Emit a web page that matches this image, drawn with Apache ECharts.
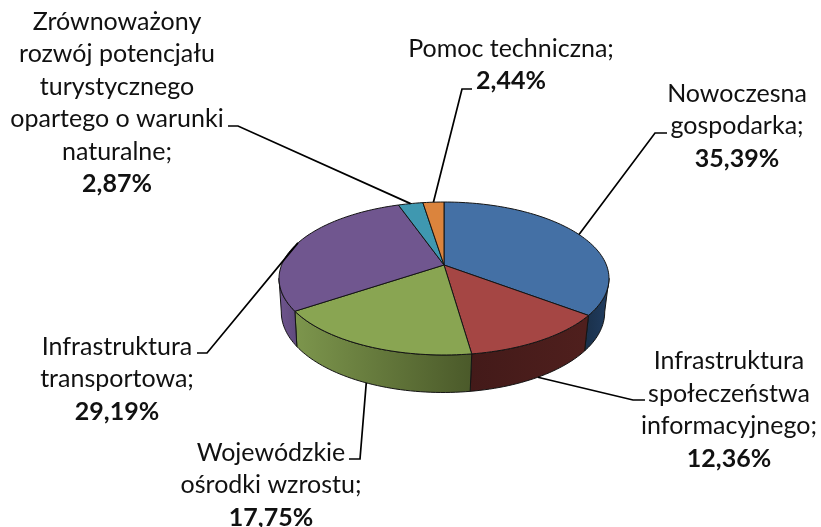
<!DOCTYPE html>
<html>
<head>
<meta charset="utf-8">
<script src="https://cdn.jsdelivr.net/npm/echarts@6/dist/echarts.min.js"></script>
<style>
  html, body { margin: 0; padding: 0; background: #ffffff; }
  #chartPie { width: 821px; height: 527px; }
</style>
</head>
<body>
<div id="chartPie"></div>
<script>
// data
var categories = [
  "Nowoczesna\ngospodarka;",
  "Infrastruktura\nspołeczeństwa\ninformacyjnego;",
  "Wojewódzkie\nośrodki wzrostu;",
  "Infrastruktura\ntransportowa;",
  "Zrównoważony\nrozwój potencjału\nturystycznego\nopartego o warunki\nnaturalne;",
  "Pomoc techniczna;"
];
var shares = [35.39, 12.36, 17.75, 29.19, 2.87, 2.44];

// styles
var topColors = ["#4470a5", "#a54644", "#89a552", "#70568f", "#3f98b0", "#db843d"];
var wallColors = [
  ["#1f3a5c", "#1a3049"],
  ["#4f1f1d", "#431a19"],
  ["#4b5a2a", "#7c954c"],
  ["#5f4a7c", "#6d548c"],
  ["#26606f", "#26606f"],
  ["#8a5226", "#8a5226"]
];
var edgeColor = "#141414";
var fontName = "Lato";

// pie geometry (perspective view of a disc)
var cx = 444, cy = 265;
var scaleX = 162.4, scaleY = 74.1, tilt = 0.1765;
var baseDrop = 33, baseScaleX = 0.98, baseScaleY = 1.05;

// where each label sits: text centre, leader elbow, leader end
var labelLayout = [
  { x: 737, y: 126, elbow: [655, 133], end: [667, 133], onBase: false },
  { x: 729, y: 410, elbow: [633, 400], end: [645, 400], onBase: true },
  { x: 271, y: 485, elbow: [360, 459], end: [349, 459], onBase: true },
  { x: 117, y: 379, elbow: [207, 353], end: [197, 353], onBase: false },
  { x: 117, y: 103, elbow: [238, 126], end: [228, 126], onBase: false },
  { x: 511, y: 65, elbow: [462, 89], end: [472, 89], onBase: false }
];

var total = shares.reduce(function (a, b) { return a + b; }, 0);
var starts = [];
shares.reduce(function (sum, v, i) { starts[i] = sum; return sum + v; }, 0);

function toAngle(v) {
  return v / total * 360;
}

// angle in degrees clockwise from the back of the disc
function project(deg, base) {
  var a = deg * Math.PI / 180;
  var X = Math.sin(a), Y = -Math.cos(a);
  var w = 1 - tilt * Y;
  var x = scaleX * X / w, y = scaleY * Y / w;
  if (base) {
    return [cx - 1 + x * baseScaleX, cy + baseDrop + y * baseScaleY];
  }
  return [cx + x, cy + y];
}

function arcPoints(from, to, base) {
  var pts = [];
  var n = Math.max(2, Math.ceil(Math.abs(to - from) / 1.5));
  for (var i = 0; i <= n; i++) {
    pts.push(project(from + (to - from) * i / n, base));
  }
  return pts;
}

function renderWall(params, api) {
  var i = params.dataIndex;
  // only the front part of the side is visible
  var from = Math.max(toAngle(starts[i]), 100);
  var to = Math.min(toAngle(starts[i] + api.value(0)), 260);
  if (to <= from) {
    return { type: "group", children: [] };
  }
  var upper = arcPoints(from, to, false);
  var lower = arcPoints(from, to, true);
  var a = lower[0], b = lower[lower.length - 1];
  return {
    type: "polygon",
    shape: { points: upper.concat(lower.reverse()) },
    style: {
      fill: {
        type: "linear", global: true,
        x: a[0], y: 0, x2: b[0], y2: 0,
        colorStops: [
          { offset: 0, color: wallColors[i][0] },
          { offset: 1, color: wallColors[i][1] }
        ]
      },
      stroke: edgeColor,
      lineWidth: 1
    }
  };
}

function renderTop(params, api) {
  var i = params.dataIndex;
  var from = toAngle(starts[i]);
  var to = from + toAngle(api.value(0));
  return {
    type: "polygon",
    shape: { points: [[cx, cy]].concat(arcPoints(from, to, false)) },
    style: { fill: topColors[i], stroke: edgeColor, lineWidth: 1 }
  };
}

function renderLabel(params, api) {
  var i = params.dataIndex;
  var pos = labelLayout[i];
  var value = api.value(0);
  var anchor = project(toAngle(starts[i] + value / 2), pos.onBase);
  var lines = categories[i].split("\n").map(function (s) { return "{n|" + s + "}"; });
  lines.push("{b|" + value.toFixed(2).replace(".", ",") + "%}");
  return {
    type: "group",
    children: [
      {
        type: "polyline",
        shape: { points: [anchor, pos.elbow, pos.end] },
        style: { fill: "none", stroke: "#000000", lineWidth: 1.7 }
      },
      {
        type: "text",
        style: {
          x: pos.x,
          y: pos.y,
          text: lines.join("\n"),
          align: "center",
          verticalAlign: "middle",
          rich: {
            n: { fontFamily: fontName, fontSize: 25, lineHeight: 32.5, fill: "#111111" },
            b: { fontFamily: fontName, fontSize: 25, fontWeight: "bold", lineHeight: 32.5, fill: "#111111" }
          }
        }
      }
    ]
  };
}

var chartData = shares.map(function (v) { return [v]; });

var myChart = echarts.init(document.getElementById("chartPie"));
myChart.setOption({
  backgroundColor: "#ffffff",
  animation: false,
  series: [
    { type: "custom", coordinateSystem: "none", silent: true, z: 1, data: chartData, renderItem: renderWall },
    { type: "custom", coordinateSystem: "none", silent: true, z: 2, data: chartData, renderItem: renderTop },
    { type: "custom", coordinateSystem: "none", silent: true, z: 3, data: chartData, renderItem: renderLabel }
  ]
});
</script>
</body>
</html>
